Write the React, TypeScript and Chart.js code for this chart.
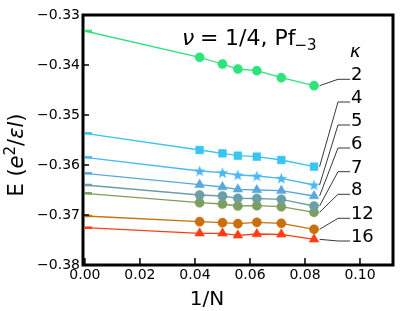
import { useEffect, useRef } from "react";
import { Chart, registerables } from "chart.js";
Chart.register(...registerables);

// 1/N values (first entry: extrapolation to N -> infinity)
const invN = [0, 0.0417, 0.05, 0.0556, 0.0625, 0.0714, 0.0833];
const kappaLabels = ["2", "4", "5", "6", "7", "8", "12", "16"];
const eK2 = [-0.3332, -0.33846, -0.3398, -0.3408, -0.34114, -0.34254, -0.34414];
const eK4 = [-0.35366, -0.357, -0.35766, -0.35814, -0.35834, -0.359, -0.36034];
const eK5 = [-0.35846, -0.3612, -0.36154, -0.362, -0.3622, -0.36266, -0.364];
const eK6 = [-0.36166, -0.36394, -0.3644, -0.36486, -0.365, -0.36514, -0.3662];
const eK7 = [-0.364, -0.366, -0.3662, -0.36666, -0.3667, -0.36686, -0.3682];
const eK8 = [-0.36566, -0.36754, -0.3678, -0.3682, -0.36814, -0.36834, -0.36946];
const eK12 = [-0.3702, -0.37134, -0.37154, -0.37174, -0.37146, -0.37166, -0.37286];
const eK16 = [-0.37254, -0.37366, -0.37366, -0.37406, -0.3738, -0.37386, -0.37486];
const seriesE = [eK2, eK4, eK5, eK6, eK7, eK8, eK12, eK16];
const colors = ["#2ee27c", "#38c6f0", "#4ab8f2", "#58a8dc", "#6c9ea6", "#7f9d5e", "#c8700c", "#ff3c12"];
const markers = ["circle", "rect", "star", "triangle", "circle", "circle", "circle", "triangle"];
// label anchor heights (data units) for the kappa labels
const labelE = [-0.34286, -0.3474, -0.352, -0.3566, -0.36134, -0.36586, -0.37066, -0.3752];
const xTicks = [0, 0.02, 0.04, 0.06, 0.08, 0.1];
const yTicks = [-0.38, -0.37, -0.36, -0.35, -0.34, -0.33];

const FONT = "'DejaVu Sans', sans-serif";

function makeStar(color: string) {
  const c = document.createElement("canvas");
  const s = 13;
  c.width = s;
  c.height = s;
  const g = c.getContext("2d")!;
  g.fillStyle = color;
  g.beginPath();
  const cx = s / 2, cy = s / 2 + 0.5, R = 6, r = 2.5;
  for (let i = 0; i < 10; i++) {
    const a = -Math.PI / 2 + (i * Math.PI) / 5;
    const rad = i % 2 === 0 ? R : r;
    const px = cx + rad * Math.cos(a), py = cy + rad * Math.sin(a);
    if (i === 0) g.moveTo(px, py); else g.lineTo(px, py);
  }
  g.closePath();
  g.fill();
  return c;
}

const decorPlugin = {
  id: "decor",
  afterDraw(chart: any) {
    const { ctx, chartArea: a, scales } = chart;
    const xs = scales.x, ys = scales.y;
    ctx.save();
    // inward ticks
    ctx.strokeStyle = "#000";
    ctx.lineWidth = 1.5;
    xTicks.forEach((v) => {
      const p = xs.getPixelForValue(v);
      ctx.beginPath();
      ctx.moveTo(p, a.bottom);
      ctx.lineTo(p, a.bottom - 7);
      ctx.stroke();
    });
    yTicks.forEach((v) => {
      const p = ys.getPixelForValue(v);
      ctx.beginPath();
      ctx.moveTo(a.left, p);
      ctx.lineTo(a.left + 6, p);
      ctx.stroke();
    });
    // frame
    ctx.lineWidth = 3;
    ctx.strokeRect(a.left, a.top, a.right - a.left, a.bottom - a.top);

    // leader lines + kappa labels
    ctx.lineWidth = 0.9;
    ctx.strokeStyle = "#222";
    ctx.fillStyle = "#000";
    const last = invN.length - 1;
    seriesE.forEach((arr, i) => {
      const sx = xs.getPixelForValue(invN[last]) + 5.5;
      const sy = ys.getPixelForValue(arr[last]);
      const ky = ys.getPixelForValue(labelE[i]);
      const kx = xs.getPixelForValue(0.092);
      const ex = xs.getPixelForValue(0.0964);
      ctx.beginPath();
      ctx.moveTo(sx, sy);
      ctx.lineTo(kx, ky);
      ctx.lineTo(ex, ky);
      ctx.stroke();
      ctx.font = `18px ${FONT}`;
      ctx.textAlign = "left";
      ctx.textBaseline = "alphabetic";
      ctx.fillText(kappaLabels[i], xs.getPixelForValue(0.0967), ky + 1);
    });
    ctx.font = `italic 18px ${FONT}`;
    ctx.fillText("κ", 350, 57);

    // title
    ctx.font = `italic 22px ${FONT}`;
    ctx.fillText("ν", 182, 45);
    ctx.font = `22px ${FONT}`;
    ctx.fillText("=", 200, 45);
    const main = "1/4, Pf";
    ctx.fillText(main, 225, 45);
    const w = ctx.measureText(main).width;
    ctx.font = `15px ${FONT}`;
    ctx.fillText("−3", 225 + w - 1, 50);

    // x axis title
    ctx.font = `20px ${FONT}`;
    ctx.textAlign = "center";
    ctx.fillText("1/N", (a.left + a.right) / 2 - 31, 305);

    // y axis title (rotated, mixed styles)
    const segs = [
      { t: "E (", f: `21px ${FONT}`, dy: 0 },
      { t: "e", f: `italic 21px ${FONT}`, dy: 0 },
      { t: "2", f: `15px ${FONT}`, dy: -8 },
      { t: "/", f: `21px ${FONT}`, dy: 0 },
      { t: "ε", f: `italic 21px ${FONT}`, dy: 0 },
      { t: "l", f: `italic 21px ${FONT}`, dy: 0 },
      { t: ")", f: `21px ${FONT}`, dy: 0 },
    ];
    let total = 0;
    const widths = segs.map((s) => {
      ctx.font = s.f;
      const mw = ctx.measureText(s.t).width;
      total += mw;
      return mw;
    });
    ctx.translate(23, 155);
    ctx.rotate(-Math.PI / 2);
    ctx.textAlign = "left";
    let cx = -total / 2;
    segs.forEach((s, i) => {
      ctx.font = s.f;
      ctx.fillText(s.t, cx, s.dy);
      cx += widths[i];
    });
    ctx.restore();
  },
};

export default function App() {
  const ref = useRef<HTMLCanvasElement>(null);
  useEffect(() => {
    if (!ref.current) return;
    const datasets = seriesE.map((arr, i) => {
      const style: any = markers[i] === "star" ? makeStar(colors[i]) : markers[i];
      const rad = markers[i] === "rect" ? 5.5 : markers[i] === "triangle" ? 5.6 : 4.6;
      return {
        label: "κ=" + kappaLabels[i],
        data: arr.map((e, j) => ({ x: invN[j], y: e })),
        borderColor: colors[i],
        backgroundColor: colors[i],
        borderWidth: 1.3,
        showLine: true,
        pointStyle: (c: any) => (c.dataIndex === 0 ? "dash" : style),
        pointRadius: (c: any) => (c.dataIndex === 0 ? 7 : rad),
        pointBorderWidth: (c: any) => (c.dataIndex === 0 ? 2.5 : 0.5),
        pointBackgroundColor: colors[i],
        pointBorderColor: colors[i],
      };
    });
    const chart = new Chart(ref.current, {
      type: "scatter",
      data: { datasets: datasets as any },
      options: {
        animation: false,
        responsive: false,
        devicePixelRatio: 1,
        layout: { padding: { left: 0, top: 15, right: 22, bottom: 0 } },
        plugins: { legend: { display: false }, tooltip: { enabled: false } },
        scales: {
          x: {
            type: "linear",
            min: -0.0007,
            max: 0.112,
            grid: { display: false, drawTicks: false },
            border: { display: false },
            afterBuildTicks: (s: any) => {
              s.ticks = xTicks.map((v) => ({ value: v }));
            },
            afterFit: (s: any) => {
              s.height = 46;
            },
            ticks: {
              padding: 2,
              color: "#000",
              font: { family: FONT, size: 14 },
              maxRotation: 0,
              callback: (v: any) => Number(v).toFixed(2),
            },
          },
          y: {
            type: "linear",
            min: -0.38,
            max: -0.33,
            grid: { display: false, drawTicks: false },
            border: { display: false },
            afterBuildTicks: (s: any) => {
              s.ticks = yTicks.map((v) => ({ value: v }));
            },
            afterFit: (s: any) => {
              s.width = 83;
            },
            ticks: {
              padding: 3,
              color: "#000",
              font: { family: FONT, size: 14 },
              callback: (v: any) => Number(v).toFixed(2).replace("-", "−"),
            },
          },
        },
      },
      plugins: [decorPlugin],
    });
    return () => chart.destroy();
  }, []);
  return (
    <div style={{ position: "fixed", left: 0, top: 0, width: 415, height: 311, background: "#fff" }}>
      <canvas ref={ref} width={415} height={311} style={{ display: "block" }} />
    </div>
  );
}
